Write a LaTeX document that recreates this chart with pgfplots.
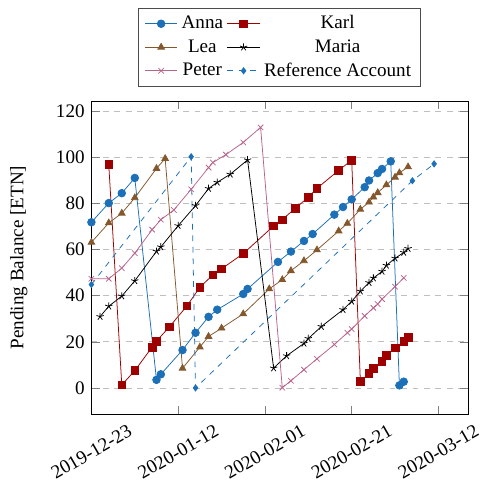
\documentclass[border=0pt]{standalone}
\usepackage{pgfplots}
\pgfplotsset{compat=1.18}
\usepackage{fontspec}
\setmainfont{Liberation Serif}
\definecolor{cAnna}{RGB}{28,112,184}
\definecolor{cKarl}{RGB}{158,0,0}
\definecolor{cLea}{RGB}{132,88,44}
\definecolor{cPeter}{RGB}{185,100,140}
\begin{document}
\begin{tikzpicture}
\begin{axis}[
  width=197pt, height=163.7pt, scale only axis,
  xmin=0, xmax=86.8, ymin=-11.3, ymax=124.3,
  xtick={0,20,40,60,80},
  xticklabels={2019-12-23,2020-01-12,2020-02-01,2020-02-21,2020-03-12},
  xticklabel style={anchor=center, rotate=30, xshift=-9.9pt, yshift=-17.15pt},
  ytick={0,20,40,60,80,100,120},
  ymajorgrids, grid style={dashed, gray!50},
  ylabel={Pending Balance [ETN]},
  ylabel style={yshift=8pt},
  /pgf/number format/assume math mode=true,
  legend columns=2, legend cell align=center,
  legend style={at={(0.5,1)}, anchor=south, yshift=7.4pt, draw=black!70},
]
\addplot[cAnna, mark=*, mark options={solid}] coordinates {
(0,71.8)(4,80.1)(7,84.4)(10,91)(15,3.5)(16,5.9)(21,16.4)(24,23.9)(27,30.8)(29,33.9)
(35,40.7)(36,42.9)(43,54.6)(46,59.1)(49,63.7)(51,66.7)(56,75.1)(58,78.4)(60,81.7)
(63,87)(64,89.9)(66,93.1)(67,94.9)(69,98.2)(71,1.1)(72,2.7)};
\addlegendentry{Anna}
\addplot[cKarl, mark=square*] coordinates {
(4,96.8)(7,1.3)(10,7.5)(14,17.7)(15,20.3)(18,26.5)(22,35.5)(25,43.6)(28,49)(30,51.6)
(35,58.2)(42,70.2)(44,72.9)(47,77.9)(50,82.6)(52,86.5)(57,94.3)(60,98.7)
(62,2.9)(64,6.2)(65,8.5)(67,11.6)(68,14.2)(70,17.4)(72,20.1)(73,22)};
\addlegendentry{Karl}
\addplot[cLea, mark=triangle*] coordinates {
(0,63.1)(4,71.5)(7,75.7)(10,82.4)(15,95.1)(17,99.4)(21,8.5)(25,17.7)(27,22.3)(30,25.9)
(35,32.1)(41,42.9)(44,46.9)(46,50.8)(49,55.1)(52,59.8)(57,68)(59,71.3)(62,77.4)
(64,80.5)(65,82.7)(66,84.6)(68,88)(70,91.3)(71,93.2)(73,95.8)};
\addlegendentry{Lea}
\addplot[black, mark=star] coordinates {
(2,30.9)(4,35.4)(7,39.8)(10,46.4)(15,59.2)(16,61.1)(20,70.3)(24,79)(27,86.4)(29,89.1)
(32,92.6)(36,98.8)(42,8.6)(45,13.9)(49,19.3)(50,21.4)(53,26.6)(58,33.9)(60,37.5)
(62,41.9)(64,45.6)(65,47.6)(67,50.5)(68,53.1)(70,56.2)(72,58.7)(73,60.4)};
\addlegendentry{Maria}
\addplot[cPeter, mark=x] coordinates {
(0,47.3)(4,47.3)(7,51.9)(10,58.4)(14,68.6)(16,72.9)(19,77.1)(23,86.1)(27,95.5)(28,97.7)
(31,101.1)(35,106.4)(39,112.9)(44,0.1)(46,3.1)(49,7.9)(52,12.6)(56,18.8)(59,23.9)
(60,25.5)(63,31.2)(65,34.7)(66,36.3)(67,38.5)(70,43.9)(72,47.7)};
\addlegendentry{Peter}
\addplot[cAnna, dashed, mark=diamond*, mark size=1.6pt, mark options={solid}] coordinates {
(0,44.8)(23,100.2)(24,0)(74,89.8)(79,97.1)};
\addlegendentry{Reference Account}
\end{axis}
\path ([shift={(-2pt,4pt)}]current bounding box.north west);
\end{tikzpicture}
\end{document}
